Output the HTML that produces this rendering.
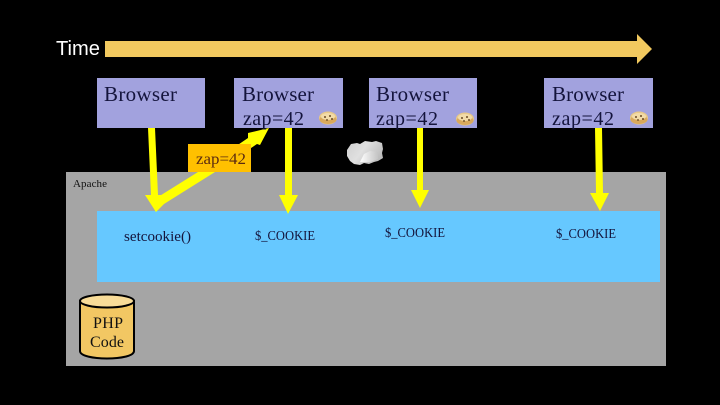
<!DOCTYPE html>
<html><head><meta charset="utf-8"><style>html,body{margin:0;padding:0;background:#000}svg{display:block}text{font-family:"Liberation Serif",serif;fill:#14143c}</style></head><body>
<svg width="720" height="405" viewBox="0 0 720 405" xmlns="http://www.w3.org/2000/svg">
<defs>
<g id="ck"><ellipse cx="0" cy="0" rx="9" ry="6.5" fill="#e8c887"/><ellipse cx="0" cy="1.5" rx="8.5" ry="4.5" fill="#d9a95c"/><ellipse cx="0" cy="-1.5" rx="7" ry="3.5" fill="#f2dba8"/><circle cx="-3" cy="-1" r="1" fill="#6b4a26"/><circle cx="2" cy="-2" r="1" fill="#6b4a26"/><circle cx="4" cy="1" r="1" fill="#6b4a26"/><circle cx="-1" cy="2" r="1" fill="#7b5a30"/></g>
<linearGradient id="cl" x1="0" y1="0" x2="1" y2="0.5"><stop offset="0" stop-color="#cfcfcf"/><stop offset="0.5" stop-color="#e0e0e0"/><stop offset="1" stop-color="#bdbdbd"/></linearGradient>
<linearGradient id="cl2" x1="0" y1="0" x2="1" y2="0"><stop offset="0" stop-color="#ffffff"/><stop offset="1" stop-color="#c4c4c4"/></linearGradient>
</defs>
<rect width="720" height="405" fill="#000"/>
<text x="56" y="55" font-size="20" lengthAdjust="spacingAndGlyphs" style="font-family:'Liberation Sans',sans-serif;fill:#fff" textLength="44">Time</text>
<polygon points="105,41 637,41 637,34 652,49 637,64 637,57 105,57" fill="#f2c95f"/>
<rect x="97" y="78" width="108" height="50" fill="#a2a2de"/>
<rect x="234" y="78" width="109" height="50" fill="#a2a2de"/>
<rect x="369" y="78" width="108" height="50" fill="#a2a2de"/>
<rect x="544" y="78" width="109" height="50" fill="#a2a2de"/>
<rect x="66" y="172" width="600" height="194" fill="#a5a5a5"/>
<rect x="97" y="211" width="563" height="71" fill="#66c8ff"/>
<polygon points="148,128 155,128 158,195 163,195 156,212 145,195 151,195" fill="#ff0"/>
<polygon points="156,212 150,202 198,172 248,138 248,133 269,128 260,145 257,144 215,172 164,204" fill="#ff0"/>
<rect x="188" y="144" width="63" height="28" fill="#ffc000"/>
<polygon points="285,128 292,128 292,195 298,195 288,214 279,195 285,195" fill="#ff0"/>
<polygon points="417,128 423,128 423,190 429,190 420,208 411,190 417,190" fill="#ff0"/>
<polygon points="595,128 602,128 603,193 609,193 600,211 590,193 596,193" fill="#ff0"/>
<path d="M347 150 l4-6 l6-1 l3 1 l5-3 l7 1 l4-1 l6 2 l1 6 l-1 4 l1 5 l-5 3 l-4 1 l-5 2 l-5-1 l-4 2 l-6-1 l-4-3 l-3-5z" fill="url(#cl)"/>
<path d="M360 162 l4-8 l6-3 l8 1 l0 7 l-8 3z" fill="url(#cl2)"/>
<text x="104" y="101" font-size="21" lengthAdjust="spacing" textLength="73">Browser</text>
<text x="242" y="101" font-size="21" lengthAdjust="spacing" textLength="72">Browser</text>
<text x="376" y="101" font-size="21" lengthAdjust="spacing" textLength="73">Browser</text>
<text x="552" y="101" font-size="21" lengthAdjust="spacing" textLength="72">Browser</text>
<text x="243" y="125" font-size="20" lengthAdjust="spacing" textLength="61">zap=42</text>
<text x="376" y="125" font-size="20" lengthAdjust="spacing" textLength="62">zap=42</text>
<text x="552" y="125" font-size="20" lengthAdjust="spacing" textLength="62">zap=42</text>
<use href="#ck" x="328" y="118"/>
<use href="#ck" x="465" y="119"/>
<use href="#ck" x="639" y="118"/>
<text x="196" y="164" font-size="16" lengthAdjust="spacingAndGlyphs" textLength="50" style="font-family:'Liberation Serif',serif;fill:#5a2a10">zap=42</text>
<text x="73" y="187" font-size="11" textLength="34" style="font-family:'Liberation Serif',serif;fill:#111">Apache</text>
<text x="124" y="241" font-size="15" lengthAdjust="spacingAndGlyphs" textLength="67">setcookie()</text>
<text x="255" y="240" font-size="14" lengthAdjust="spacingAndGlyphs" textLength="60">$_COOKIE</text>
<text x="385" y="237" font-size="14" lengthAdjust="spacingAndGlyphs" textLength="60">$_COOKIE</text>
<text x="556" y="238" font-size="14" lengthAdjust="spacingAndGlyphs" textLength="60">$_COOKIE</text>
<path d="M80 301 V351 C80 361 134 361 134 351 V301 Z" fill="#f2c763" stroke="#000" stroke-width="2"/>
<ellipse cx="107" cy="301" rx="27" ry="6.5" fill="#f8dc98" stroke="#000" stroke-width="2"/>
<text x="93" y="328" font-size="16" textLength="30" style="font-family:'Liberation Serif',serif;fill:#111">PHP</text>
<text x="90" y="347" font-size="16" textLength="34" style="font-family:'Liberation Serif',serif;fill:#111">Code</text>
</svg>
</body></html>
